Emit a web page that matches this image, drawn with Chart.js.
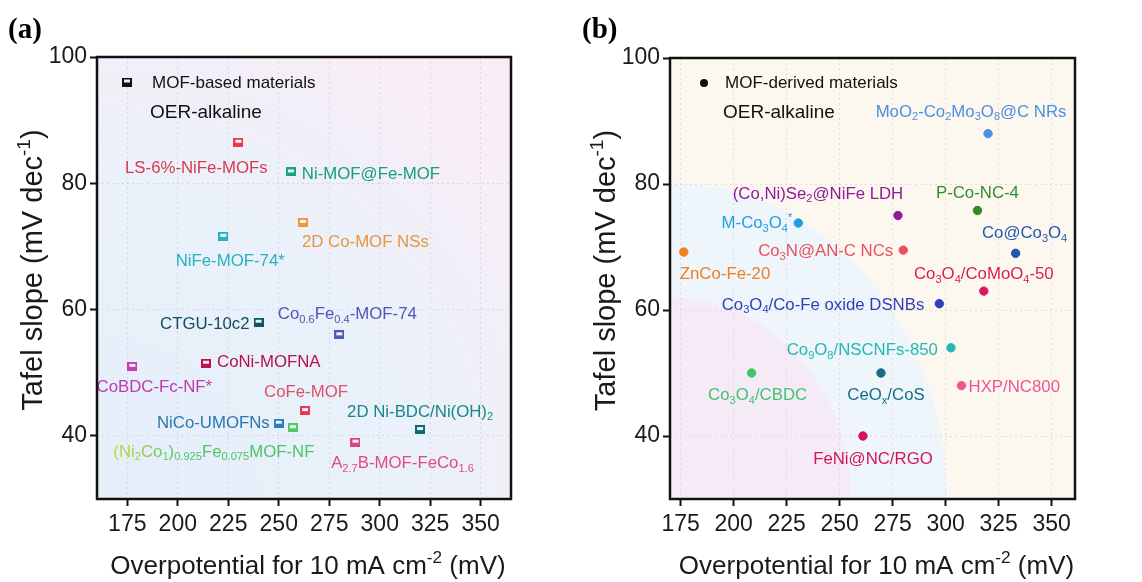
<!DOCTYPE html>
<html>
<head>
<meta charset="utf-8">
<script src="https://cdn.jsdelivr.net/npm/chart.js@4.4.1/dist/chart.umd.min.js"></script>
<style>
  html, body { margin: 0; padding: 0; background: #fff; }
  #wrap { position: relative; width: 1142px; height: 582px; overflow: hidden; }
  canvas { position: absolute; top: 0; }
  #chartA { left: 0; }
  #chartB { left: 571px; }
</style>
</head>
<body>
<div id="wrap">
  <canvas id="chartA" width="571" height="582"></canvas>
  <canvas id="chartB" width="571" height="582"></canvas>
</div>
<script>
const FONT = "'Liberation Sans', Arial, Helvetica, sans-serif";
const LABEL_SIZE = 16.8;

// Ejes compartidos
const xTicks = [175, 200, 225, 250, 275, 300, 325, 350];
const yTicks = [40, 60, 80, 100];

// (a) MOF-based materials
const mofNames = [
  'LS-6%-NiFe-MOFs', 'Ni-MOF@Fe-MOF', '2D Co-MOF NSs', 'NiFe-MOF-74*', 'CTGU-10c2',
  'Co_{0.6}Fe_{0.4}-MOF-74', 'CoNi-MOFNA', 'CoBDC-Fc-NF*', 'CoFe-MOF', 'NiCo-UMOFNs',
  '(Ni_{2}Co_{1})_{0.925}Fe_{0.075}MOF-NF', '2D Ni-BDC/Ni(OH)_{2}', 'A_{2.7}B-MOF-FeCo_{1.6}'
];
const mofOverpotential = [230, 256, 262, 222.5, 240, 280, 214, 177.5, 263, 250, 257, 320, 288];
const mofTafel = [86.5, 81.8, 73.8, 71.6, 58, 56, 51.5, 51, 44, 42, 41.3, 41, 39];
const mofColors = [
  '#e8384f', '#16a37f', '#f0963c', '#26b4c2', '#0f5565', '#4a5bbd', '#c0124c',
  '#c83cb4', '#e8385a', '#2a7fb8', '#52c86a', '#0f6b70', '#e0407f'
];
const mofTextColors = [
  '#d63a52', '#14a07a', '#e8953f', '#27b0be', '#134b5e', '#4c57b8', '#b8104a',
  '#c03aae', '#e0506a', '#2a78b0', ['#c4d838', '#4cc46a'], '#16888a', '#e04a85'
];

// (b) MOF-derived materials
const derivedNames = [
  'MoO_{2}-Co_{2}Mo_{3}O_{8}@C NRs', '(Co,Ni)Se_{2}@NiFe LDH', 'P-Co-NC-4', 'M-Co_{3}O_{4}^{*}',
  'Co_{3}N@AN-C NCs', 'ZnCo-Fe-20', 'Co@Co_{3}O_{4}', 'Co_{3}O_{4}/CoMoO_{4}-50',
  'Co_{3}O_{4}/Co-Fe oxide DSNBs', 'Co_{9}O_{8}/NSCNFs-850', 'Co_{3}O_{4}/CBDC', 'CeO_{x}/CoS',
  'HXP/NC800', 'FeNi@NC/RGO'
];
const derivedOverpotential = [320, 277.5, 315, 230.5, 280, 176.5, 333, 318, 297, 302.5, 208.5, 269.5, 307.5, 261];
const derivedTafel = [88, 75, 75.8, 73.8, 69.5, 69.2, 69, 63, 61, 54, 50, 50, 48, 40];
const derivedColors = [
  '#4a8fe0', '#8e1b9c', '#2e8b2e', '#1f9ee0', '#e8505f', '#f07f1e', '#1e58b4',
  '#d81b5f', '#2f3fb8', '#22b8b5', '#3ec46c', '#136f85', '#ec5592', '#d4145a'
];

// posición de cada etiqueta respecto a su punto: [dx, dy, alineación]
const mofLabelPos = [
  [-42, 25, 'center'], [11, 1, 'left'], [-1, 19, 'left'], [7, 24, 'center'], [-9, 1, 'right'],
  [8, -22, 'center'], [11, -2, 'left'], [22, 20, 'center'], [1, -20, 'center'], [-9, -1, 'right'],
  [-79, 23, 'center'], [0, -19, 'center'], [47, 20, 'center']
];
const derivedLabelPos = [
  [-17, -23, 'center'], [-80, -23, 'center'], [0, -19, 'center'], [-6, -1, 'right'],
  [-10, 0, 'right'], [-4, 21, 'left'], [9, -21, 'center'], [0, -18, 'center'],
  [-15, 0, 'right'], [-13, 1, 'right'], [6, 21, 'center'], [5, 21, 'center'],
  [7, 0, 'left'], [10, 22, 'center']
];

// texto con subíndices _{..} y superíndices ^{..}
function parseRich(str) {
  const out = [];
  const re = /([_^])\{([^}]*)\}/g;
  let last = 0, m;
  while ((m = re.exec(str))) {
    if (m.index > last) out.push({ t: str.slice(last, m.index), k: 0 });
    out.push({ t: m[2], k: m[1] === '_' ? 1 : 2 });
    last = re.lastIndex;
  }
  if (last < str.length) out.push({ t: str.slice(last), k: 0 });
  return out;
}

function drawRich(ctx, str, x, y, size, color, align) {
  const segs = parseRich(str);
  const small = size * 0.66;
  let w = 0;
  segs.forEach(s => {
    ctx.font = (s.k ? small : size) + 'px ' + FONT;
    s.w = ctx.measureText(s.t).width;
    w += s.w;
  });
  let sx = align === 'left' ? x : align === 'right' ? x - w : x - w / 2;
  const base = y + size * 0.36;
  let fill = color;
  if (Array.isArray(color)) {
    const g = ctx.createLinearGradient(sx, 0, sx + w, 0);
    g.addColorStop(0, color[0]);
    g.addColorStop(0.35, color[1]);
    g.addColorStop(1, color[1]);
    fill = g;
  }
  ctx.fillStyle = fill;
  ctx.textAlign = 'left';
  ctx.textBaseline = 'alphabetic';
  segs.forEach(s => {
    ctx.font = (s.k ? small : size) + 'px ' + FONT;
    const by = s.k === 1 ? base + size * 0.22 : s.k === 2 ? base - size * 0.42 : base;
    ctx.fillText(s.t, sx, by);
    sx += s.w;
  });
}

// marcador cuadrado con franja clara
function squareMarker(color) {
  const c = document.createElement('canvas');
  c.width = 10; c.height = 9;
  const g = c.getContext('2d');
  g.fillStyle = color;
  g.fillRect(0, 0, 10, 9);
  g.fillStyle = 'rgba(255,255,255,0.92)';
  g.fillRect(2, 2, 6, 3);
  return c;
}

function bgMof(ctx, a) {
  ctx.fillStyle = '#f9eef6';
  ctx.fillRect(a.left, a.top, a.width, a.height);
  const g = ctx.createRadialGradient(a.left, a.bottom, 0, a.left, a.bottom, 560);
  g.addColorStop(0, '#e4eef9');
  g.addColorStop(0.55, '#eaf1fa');
  g.addColorStop(0.78, '#f1eff8');
  g.addColorStop(1, 'rgba(249,238,246,0)');
  ctx.fillStyle = g;
  ctx.fillRect(a.left, a.top, a.width, a.height);
}

function bgDerived(ctx, a) {
  ctx.fillStyle = '#fdf8ef';
  ctx.fillRect(a.left, a.top, a.width, a.height);
  ctx.beginPath();
  ctx.rect(a.left, a.top, a.width, a.height);
  ctx.clip();
  ctx.fillStyle = '#eef5fb';
  ctx.beginPath();
  ctx.ellipse(a.left, a.bottom, 277, 316, 0, 0, Math.PI * 2);
  ctx.fill();
  ctx.fillStyle = '#f5ebf6';
  ctx.beginPath();
  ctx.ellipse(a.left, a.bottom, 181, 202, 0, 0, Math.PI * 2);
  ctx.fill();
}

function makePanel(cfg) {
  return {
    id: 'panel' + cfg.letter,
    beforeDraw(chart) {
      const ctx = chart.ctx;
      ctx.save();
      cfg.background(ctx, chart.chartArea);
      ctx.restore();
    },
    afterDatasetsDraw(chart) {
      const ctx = chart.ctx;
      const meta = chart.getDatasetMeta(0);
      ctx.save();
      meta.data.forEach((pt, i) => {
        const [dx, dy, align] = cfg.labelPos[i];
        drawRich(ctx, cfg.names[i], pt.x + dx, pt.y + dy, LABEL_SIZE, cfg.textColors[i], align);
      });
      ctx.restore();
    },
    afterDraw(chart) {
      const ctx = chart.ctx;
      const a = chart.chartArea;
      ctx.save();
      // marco
      ctx.strokeStyle = '#111';
      ctx.lineWidth = 2.5;
      ctx.strokeRect(a.left, a.top, a.width, a.height);

      // leyenda
      if (cfg.legendMarker === 'square') {
        ctx.drawImage(squareMarker('#111'), a.left + 30 - 5, 82 - 4.5);
      } else {
        ctx.fillStyle = '#111';
        ctx.beginPath();
        ctx.arc(a.left + 34, 83, 4, 0, Math.PI * 2);
        ctx.fill();
      }
      drawRich(ctx, cfg.legendText, a.left + 55, 82, 17, '#111', 'left');
      drawRich(ctx, 'OER-alkaline', a.left + 53, 111, 19, '#111', 'left');

      // títulos de ejes
      drawRich(ctx, 'Overpotential for 10 mA cm^{-2} (mV)', (a.left + a.right) / 2 + 4, 565, 26, '#1a1a1a', 'center');
      ctx.save();
      ctx.translate(a.left - 65, (a.top + a.bottom) / 2 - 8);
      ctx.rotate(-Math.PI / 2);
      drawRich(ctx, 'Tafel slope (mV dec^{-1})', 0, 0, 29, '#1a1a1a', 'center');
      ctx.restore();

      // letra del panel
      ctx.fillStyle = '#000';
      ctx.font = 'bold 29px "Liberation Serif", "Times New Roman", serif';
      ctx.textAlign = 'left';
      ctx.textBaseline = 'middle';
      ctx.fillText('(' + cfg.letter + ')', cfg.letterX, 31);
      ctx.restore();
    }
  };
}

function makeChart(canvasId, cfg) {
  const W = 571, H = 582;
  const tickFont = { family: FONT, size: 23 };
  return new Chart(document.getElementById(canvasId), {
    type: 'scatter',
    data: {
      datasets: [{
        data: cfg.x.map((v, i) => ({ x: v, y: cfg.y[i] })),
        pointStyle: cfg.pointStyle,
        backgroundColor: cfg.colors,
        borderColor: cfg.colors,
        borderWidth: 1,
        pointRadius: cfg.radius
      }]
    },
    options: {
      responsive: false,
      animation: false,
      events: [],
      layout: { padding: { top: cfg.area.top, right: W - cfg.area.right, left: 0, bottom: 0 } },
      plugins: { legend: { display: false }, tooltip: { enabled: false } },
      scales: {
        x: {
          type: 'linear',
          min: cfg.xMin, max: cfg.xMax,
          afterBuildTicks: s => { s.ticks = xTicks.map(v => ({ value: v })); },
          afterFit: s => { s.height = H - cfg.area.bottom; },
          ticks: { font: tickFont, color: '#1a1a1a', padding: 5, maxRotation: 0, autoSkip: false },
          grid: { color: cfg.gridColor, lineWidth: 1, tickLength: 7, tickColor: '#111', tickWidth: 2 },
          border: { display: false, dash: [2, 3] }
        },
        y: {
          type: 'linear',
          min: 30, max: 100,
          afterBuildTicks: s => { s.ticks = yTicks.map(v => ({ value: v })); },
          afterFit: s => { s.width = cfg.area.left; },
          ticks: { font: tickFont, color: '#1a1a1a', padding: 3 },
          grid: { color: cfg.gridColor, lineWidth: 1, tickLength: 7, tickColor: '#111', tickWidth: 2 },
          border: { display: false, dash: [2, 3] }
        }
      }
    },
    plugins: [makePanel(cfg)]
  });
}

makeChart('chartA', {
  letter: 'a', letterX: 8,
  names: mofNames, x: mofOverpotential, y: mofTafel,
  colors: mofColors, textColors: mofTextColors, labelPos: mofLabelPos,
  pointStyle: mofColors.map(squareMarker), radius: 5,
  xMin: 160, xMax: 365,
  area: { left: 97, right: 511, top: 57, bottom: 499 },
  gridColor: 'rgba(205,205,222,0.7)',
  background: bgMof,
  legendMarker: 'square', legendText: 'MOF-based materials'
});

makeChart('chartB', {
  letter: 'b', letterX: 11,
  names: derivedNames, x: derivedOverpotential, y: derivedTafel,
  colors: derivedColors, textColors: derivedColors, labelPos: derivedLabelPos,
  pointStyle: 'circle', radius: 4.2,
  xMin: 170, xMax: 361,
  area: { left: 99, right: 504, top: 58, bottom: 499 },
  gridColor: 'rgba(222,205,215,0.7)',
  background: bgDerived,
  legendMarker: 'circle', legendText: 'MOF-derived materials'
});
</script>
</body>
</html>
